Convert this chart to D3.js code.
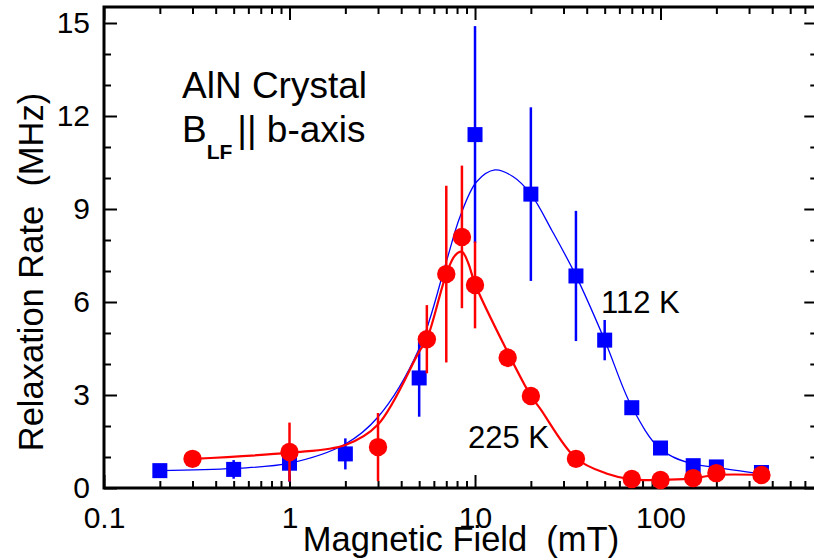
<!DOCTYPE html>
<html>
<head>
<meta charset="utf-8">
<script src="https://cdn.jsdelivr.net/npm/d3@7"></script>
<style>
  html, body { margin: 0; padding: 0; background: #fff; }
  svg { display: block; font-family: "Liberation Sans", Arial, Helvetica, sans-serif; }
</style>
</head>
<body>
<svg id="chart" width="814" height="560"></svg>
<script>
// Muon spin relaxation rate vs. longitudinal field, AlN crystal
const xMajorTicks = [0.1, 1, 10, 100];
const xTickLabels = ["0.1", "1", "10", "100"];
const yMajorTicks = [0, 3, 6, 9, 12, 15];
const yTickLabels = ["0", "3", "6", "9", "12", "15"];

// 112 K series (blue squares)
const field112 = [0.2, 0.5, 1, 2, 5, 10, 20, 35, 50, 70, 100, 150, 200, 350];
const rate112  = [0.56, 0.6, 0.8, 1.1, 3.55, 11.4, 9.48, 6.84, 4.77, 2.59, 1.29, 0.72, 0.68, 0.5];
const err112   = [0, 0.3, 0.6, 0.5, 1.25, 3.5, 2.8, 2.1, 0.65, 0, 0, 0, 0, 0];

// 225 K series (red circles)
const field225 = [0.3, 1, 3, 5.5, 7, 8.5, 10, 15, 20, 35, 70, 100, 150, 200, 350];
const rate225  = [0.94, 1.16, 1.32, 4.8, 6.9, 8.1, 6.55, 4.2, 2.97, 0.94, 0.29, 0.26, 0.32, 0.48, 0.42];
const err225   = [0, 0.95, 1.1, 1.1, 2.85, 2.3, 1.4, 0.3, 0.2, 0, 0, 0, 0, 0, 0];

// Fitted curves
const fit112X = [0.2, 0.5, 1, 2, 3, 5, 7, 8.3, 10.2, 12.8, 16, 20, 26, 35, 50, 70, 100, 144, 200, 350];
const fit112Y = [0.56, 0.63, 0.8, 1.42, 2.29, 4.5, 7.3, 8.75, 9.88, 10.26, 10.05, 9.48, 8.3, 6.85, 4.77, 2.62, 1.25, 0.8, 0.66, 0.46];
const fit225X = [0.3, 1, 2, 3, 5, 5.5, 7, 7.8, 8.5, 9.2, 10, 14.8, 20, 22.4, 35, 51, 70, 100, 144, 200, 350];
const fit225Y = [0.94, 1.14, 1.39, 2.05, 4.4, 4.8, 6.9, 7.5, 7.62, 7.25, 6.58, 4.45, 2.97, 2.57, 0.96, 0.47, 0.28, 0.26, 0.3, 0.42, 0.42];

const svg = d3.select("#chart");
const plotLeft = 104, plotRight = 817.3, plotTop = 7, plotBottom = 488;

const x = d3.scaleLog().domain([0.1, 700]).range([plotLeft, plotRight]);
const y = d3.scaleLinear().domain([0, (plotBottom - plotTop) / 31]).range([plotBottom, plotTop]);

const xMinor = [];
[0.1, 1, 10, 100].forEach(d => { for (let k = 2; k <= 9; k++) if (d * k <= 700) xMinor.push(d * k); });
const yMinor = d3.range(0, 16).filter(v => v % 3 !== 0);

function cleanAxis(g) {
  g.select(".domain").remove();
  g.selectAll(".tick line").attr("stroke", "#000").attr("stroke-width", 2);
  g.selectAll("text").attr("fill", "#000");
}

// Bottom axis
svg.append("g").attr("transform", `translate(0,${plotBottom})`)
  .call(d3.axisBottom(x).tickValues(xMajorTicks).tickSize(-13).tickPadding(19)
    .tickFormat((d, i) => xTickLabels[i]))
  .call(cleanAxis)
  .selectAll("text").attr("font-size", 30).attr("font-family", "Liberation Sans, Arial, sans-serif");
svg.append("g").attr("transform", `translate(0,${plotBottom})`)
  .call(d3.axisBottom(x).tickValues(xMinor).tickSize(-7).tickFormat(""))
  .call(cleanAxis);

// Top axis
svg.append("g").attr("transform", `translate(0,${plotTop})`)
  .call(d3.axisTop(x).tickValues(xMajorTicks).tickSize(-13).tickFormat(""))
  .call(cleanAxis);
svg.append("g").attr("transform", `translate(0,${plotTop})`)
  .call(d3.axisTop(x).tickValues(xMinor).tickSize(-7).tickFormat(""))
  .call(cleanAxis);

// Left axis
svg.append("g").attr("transform", `translate(${plotLeft},0)`)
  .call(d3.axisLeft(y).tickValues(yMajorTicks).tickSize(-13).tickPadding(14)
    .tickFormat((d, i) => yTickLabels[i]))
  .call(cleanAxis)
  .selectAll("text").attr("font-size", 30).attr("font-family", "Liberation Sans, Arial, sans-serif");
svg.append("g").attr("transform", `translate(${plotLeft},0)`)
  .call(d3.axisLeft(y).tickValues(yMinor).tickSize(-7).tickFormat(""))
  .call(cleanAxis);

// Right axis
svg.append("g").attr("transform", `translate(${plotRight},0)`)
  .call(d3.axisRight(y).tickValues(yMajorTicks).tickSize(-13).tickFormat(""))
  .call(cleanAxis);
svg.append("g").attr("transform", `translate(${plotRight},0)`)
  .call(d3.axisRight(y).tickValues(yMinor).tickSize(-7).tickFormat(""))
  .call(cleanAxis);

// Frame
svg.append("rect")
  .attr("x", plotLeft).attr("y", plotTop)
  .attr("width", plotRight - plotLeft).attr("height", plotBottom - plotTop)
  .attr("fill", "none").attr("stroke", "#000").attr("stroke-width", 3);

const line = d3.line().x(d => x(d[0])).y(d => y(d[1])).curve(d3.curveCatmullRom.alpha(0.5));

function drawSeries(xs, ys, errs, fx, fy, color, lineWidth, marker) {
  const g = svg.append("g");
  g.append("path")
    .datum(fx.map((v, i) => [v, fy[i]]))
    .attr("d", line)
    .attr("fill", "none").attr("stroke", color).attr("stroke-width", lineWidth);
  const pts = xs.map((v, i) => ({ f: v, r: ys[i], e: errs[i] }));
  g.selectAll("line.err").data(pts.filter(p => p.e > 0)).join("line")
    .attr("class", "err")
    .attr("x1", d => x(d.f)).attr("x2", d => x(d.f))
    .attr("y1", d => y(Math.max(0, d.r - d.e))).attr("y2", d => y(d.r + d.e))
    .attr("stroke", color).attr("stroke-width", 2.5);
  if (marker === "square") {
    const s = 15;
    g.selectAll("rect.pt").data(pts).join("rect")
      .attr("class", "pt")
      .attr("x", d => x(d.f) - s / 2).attr("y", d => y(d.r) - s / 2)
      .attr("width", s).attr("height", s).attr("fill", color);
  } else {
    g.selectAll("circle.pt").data(pts).join("circle")
      .attr("class", "pt")
      .attr("cx", d => x(d.f)).attr("cy", d => y(d.r))
      .attr("r", 9.2).attr("fill", color);
  }
}

drawSeries(field112, rate112, err112, fit112X, fit112Y, "#0000ff", 1.3, "square");
drawSeries(field225, rate225, err225, fit225X, fit225Y, "#ff0000", 2.2, "circle");

// Axis titles
svg.append("text")
  .attr("x", 461).attr("y", 551)
  .attr("text-anchor", "middle").attr("font-size", 34.5).attr("fill", "#000")
  .attr("xml:space", "preserve")
  .text("Magnetic Field  (mT)");
svg.append("text")
  .attr("transform", "translate(43,272) rotate(-90)")
  .attr("text-anchor", "middle").attr("font-size", 34.5).attr("fill", "#000")
  .attr("xml:space", "preserve")
  .text("Relaxation Rate  (MHz)");

// Annotations
svg.append("text").attr("x", 182).attr("y", 98)
  .attr("font-size", 37).attr("fill", "#000").text("AlN Crystal");
const t2 = svg.append("text").attr("x", 182).attr("y", 142)
  .attr("font-size", 37).attr("fill", "#000");
t2.append("tspan").text("B");
t2.append("tspan").attr("dy", 17).attr("font-size", 21).attr("font-weight", "bold").text("LF");
t2.append("tspan").attr("dy", -17).attr("dx", 5).text("|| b-axis");

svg.append("text").attr("x", 601).attr("y", 313)
  .attr("font-size", 31).attr("fill", "#000").text("112 K");
svg.append("text").attr("x", 468).attr("y", 448)
  .attr("font-size", 31).attr("fill", "#000").text("225 K");
</script>
</body>
</html>
